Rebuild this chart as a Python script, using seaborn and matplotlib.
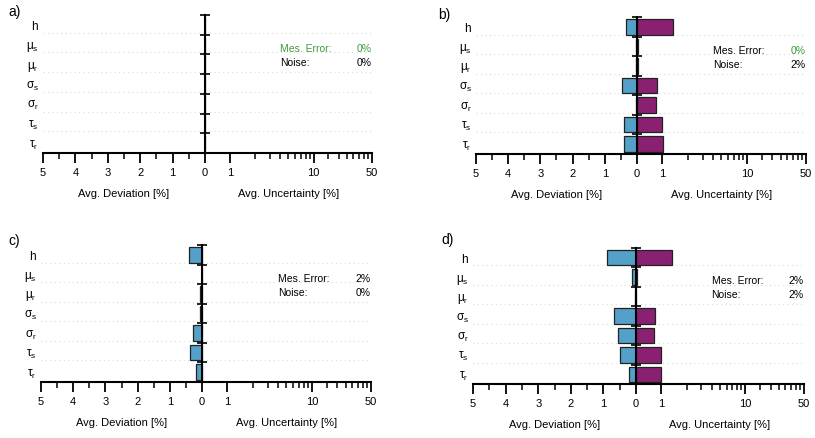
import numpy as np
import pandas as pd
import matplotlib
matplotlib.use("Agg")
import matplotlib.pyplot as plt
import seaborn as sns

# --- DATOS ---
params = ["h", "mu_s", "mu_r", "sigma_s", "sigma_r", "tau_s", "tau_r"]
param_labels = [r"$h$", r"$\mu_s$", r"$\mu_r$", r"$\sigma_s$", r"$\sigma_r$",
                r"$\tau_s$", r"$\tau_r$"]

# desviación media [%] (lado izquierdo) e incertidumbre media [%] (lado derecho)
dev_a = [0.0, 0.0, 0.0, 0.0, 0.0, 0.0, 0.0]
unc_a = [0.0, 0.0, 0.0, 0.0, 0.0, 0.0, 0.0]
dev_b = [0.35, 0.02, 0.03, 0.46, 0.02, 0.41, 0.41]
unc_b = [1.35, 0.03, 0.02, 0.77, 0.75, 1.0, 1.02]
dev_c = [0.41, 0.0, 0.07, 0.05, 0.28, 0.36, 0.20]
unc_c = [0.0, 0.0, 0.0, 0.0, 0.0, 0.0, 0.0]
dev_d = [0.88, 0.13, 0.02, 0.69, 0.55, 0.50, 0.23]
unc_d = [1.34, 0.02, 0.01, 0.75, 0.73, 1.0, 1.0]

mes_error = ["0%", "0%", "2%", "2%"]
noise = ["0%", "2%", "0%", "2%"]
panel_letters = ["a)", "b)", "c)", "d)"]

# --- ESTILO ---
sns.set_style("white")
plt.rcParams['font.family'] = ['Liberation Sans', 'DejaVu Sans']
plt.rcParams['mathtext.default'] = 'regular'
plt.rcParams['text.color'] = 'black'
plt.rcParams['axes.labelcolor'] = 'black'
plt.rcParams['axes.edgecolor'] = 'black'
plt.rcParams['xtick.color'] = 'black'
plt.rcParams['ytick.color'] = 'black'

W, H = 815, 438
BLUE = "#53a0c8"
PURPLE = "#8a2072"
GREEN = "#3c9b3c"


def rect(x0, x1, ytop, ybot):
    return [x0 / W, 1 - ybot / H, (x1 - x0) / W, (ybot - ytop) / H]


# posiciones en píxeles: (x izquierda, x cero, x derecha, y arriba, y abajo, letra x, letra y)
layout = [
    (43, 205, 372, 15, 153, 8, 12),
    (476, 637, 806, 17, 154, 438, 15),
    (41, 202, 371, 245, 382, 8, 241),
    (473, 636, 804, 248, 384, 441, 240),
]
devs = [dev_a, dev_b, dev_c, dev_d]
uncs = [unc_a, unc_b, unc_c, unc_d]

fig = plt.figure(figsize=(W / 100, H / 100), dpi=100)

for i, (x0, xz, x1, yt, yb, lx, ly) in enumerate(layout):
    df = pd.DataFrame({"param": params, "dev": devs[i], "unc": uncs[i]})

    axl = fig.add_axes(rect(x0, xz, yt, yb))
    axr = fig.add_axes(rect(xz, x1, yt, yb))

    sns.barplot(data=df, x="dev", y="param", ax=axl, color=BLUE, orient="h",
                width=0.8, edgecolor="#222222", linewidth=0.9, saturation=1)
    sns.barplot(data=df, x="unc", y="param", ax=axr, color=PURPLE, orient="h",
                width=0.8, edgecolor="#222222", linewidth=0.9, saturation=1)

    for ax in (axl, axr):
        ax.set_ylim(6.5, -0.5)
        ax.set_ylabel("")
        ax.spines["top"].set_visible(False)
        ax.spines["right"].set_visible(False)
        ax.spines["bottom"].set_linewidth(1.5)
        for b in np.arange(0.4, 6.4, 1.0):
            ax.axhline(b, color="#dadada", ls=(0, (1, 3)), lw=0.8, zorder=0)

    # eje izquierdo: desviación, lineal invertido
    axl.spines["left"].set_visible(False)
    axl.set_xlim(5, 0)
    axl.set_xticks([5, 4, 3, 2, 1, 0])
    axl.set_xticklabels(["5", "4", "3", "2", "1", "0"])
    axl.set_xticks([4.5, 3.5, 2.5, 1.5, 0.5], minor=True)
    axl.set_yticks(range(7))
    axl.set_yticklabels(param_labels)
    axl.tick_params(axis="y", length=0, pad=3, labelsize=8.5)
    axl.set_xlabel("Avg. Deviation [%]", fontsize=8, labelpad=8)

    # eje derecho: incertidumbre, symlog
    axr.set_xscale("symlog", linthresh=1, linscale=0.27)
    axr.set_xlim(0, 50)
    axr.set_xticks([1, 10, 50])
    axr.set_xticklabels(["1", "10", "50"])
    axr.set_xticks([2, 3, 4, 5, 6, 7, 8, 9, 15, 20, 25, 30, 35, 40, 45], minor=True)
    axr.set_xticklabels([], minor=True)
    axr.spines["left"].set_linewidth(1.5)
    axr.set_yticks(np.arange(-0.5, 6.0, 1.0))
    axr.tick_params(axis="y", direction="inout", length=7, width=1.2,
                    left=True, labelleft=False)
    axr.set_xlabel("Avg. Uncertainty [%]", fontsize=8, labelpad=8)

    for ax in (axl, axr):
        ax.tick_params(axis="x", which="major", direction="out", length=7,
                       width=1.3, labelsize=8, pad=4, bottom=True)
        ax.tick_params(axis="x", which="minor", direction="out", length=4,
                       width=1.1, bottom=True)

    # texto de condiciones
    c1 = GREEN if i == 0 else "black"
    c2 = GREEN if i in (0, 1) else "black"
    axr.text(0.45, 0.755, "Mes. Error:", transform=axr.transAxes, fontsize=7.5,
             color=c1, va="center")
    axr.text(1.0, 0.755, mes_error[i], transform=axr.transAxes, fontsize=7.5,
             color=c2, va="center", ha="right")
    axr.text(0.45, 0.652, "Noise:", transform=axr.transAxes, fontsize=7.5,
             va="center")
    axr.text(1.0, 0.652, noise[i], transform=axr.transAxes, fontsize=7.5,
             va="center", ha="right")

    fig.text(lx / W, 1 - ly / H, panel_letters[i], fontsize=10, va="center")

fig.savefig("out.png", dpi=100)
